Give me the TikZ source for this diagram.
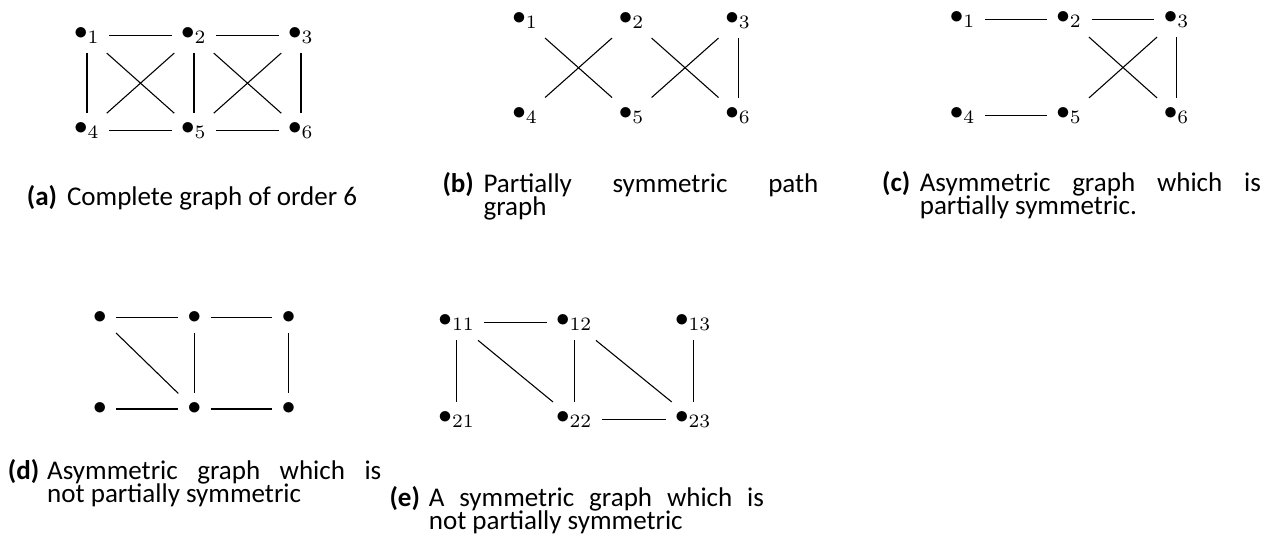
\documentclass[tikz,border=0pt]{standalone}
\usepackage{fontspec}
\newfontfamily\capfont{Carlito}
\begin{document}
\begin{tikzpicture}[x=0.37pt,y=-0.37pt,
  vtx/.style={inner sep=3.33pt},
  edge/.style={draw=black,line width=0.4pt},
  captxt/.style={anchor=base west,inner sep=0pt,font=\capfont\fontsize{10}{8.3}\selectfont},
  caplbl/.style={anchor=base west,inner sep=0pt,font=\capfont\bfseries\fontsize{10}{8.3}\selectfont}]
\useasboundingbox (0,0) rectangle (1264,546);

% ---------- (a) ----------
\begin{scope}[shift={(87,35.5)}]
\node[vtx] (a1) at (0,0) {$\bullet_1$};
\node[vtx] (a2) at (107,0) {$\bullet_2$};
\node[vtx] (a3) at (214,0) {$\bullet_3$};
\node[vtx] (a4) at (0,95.3) {$\bullet_4$};
\node[vtx] (a5) at (107,95.3) {$\bullet_5$};
\node[vtx] (a6) at (214,95.3) {$\bullet_6$};
\end{scope}
\foreach \u/\v in {a1/a2,a2/a3,a4/a5,a5/a6,a1/a4,a2/a5,a3/a6,a1/a5,a2/a4,a2/a6,a3/a5}
  \draw[edge] (\u) -- (\v);
\node[anchor=base,inner sep=0pt,font=\capfont\fontsize{10}{8.3}\selectfont] (capa) at (192,206)
  {\textbf{(a)}\hspace{3.7pt}Complete graph of order 6};

% ---------- (b) ----------
\begin{scope}[shift={(525.3,20.5)}]
\node[vtx] (b1) at (0,0) {$\bullet_1$};
\node[vtx] (b2) at (106.5,0) {$\bullet_2$};
\node[vtx] (b3) at (213,0) {$\bullet_3$};
\node[vtx] (b4) at (0,94.6) {$\bullet_4$};
\node[vtx] (b5) at (106.5,94.6) {$\bullet_5$};
\node[vtx] (b6) at (213,94.6) {$\bullet_6$};
\end{scope}
\foreach \u/\v in {b1/b5,b2/b4,b2/b6,b3/b5,b3/b6}
  \draw[edge] (\u) -- (\v);
\node[caplbl] (lb) at (442,193) {(b)};
\node[captxt] (tb1) at (483,193) {\hbox to 123.9pt{Partially\hfill symmetric\hfill path}};
\node[captxt] (tb2) at (483,216) {graph};

% ---------- (c) ----------
\begin{scope}[shift={(962.7,19.5)}]
\node[vtx] (c1) at (0,0) {$\bullet_1$};
\node[vtx] (c2) at (106.6,0) {$\bullet_2$};
\node[vtx] (c3) at (214,0) {$\bullet_3$};
\node[vtx] (c4) at (0,96) {$\bullet_4$};
\node[vtx] (c5) at (106.6,96) {$\bullet_5$};
\node[vtx] (c6) at (214,96) {$\bullet_6$};
\end{scope}
\foreach \u/\v in {c1/c2,c2/c3,c2/c6,c3/c5,c3/c6,c4/c5}
  \draw[edge] (\u) -- (\v);
\node[caplbl] (lc) at (881.7,192) {(c)};
\node[captxt] (tc1) at (919.3,192) {\hbox to 126.2pt{Asymmetric\hfill graph\hfill which\hfill is}};
\node[captxt] (tc2) at (919.3,215) {partially symmetric.};

% ---------- (d) ----------
\begin{scope}[shift={(100,317.4)}]
\node[vtx] (d1) at (0,0) {$\bullet$};
\node[vtx] (d2) at (94.3,0) {$\bullet$};
\node[vtx] (d3) at (188.7,0) {$\bullet$};
\node[vtx] (d4) at (0,91.6) {$\bullet$};
\node[vtx] (d5) at (94.3,91.6) {$\bullet$};
\node[vtx] (d6) at (188.7,91.6) {$\bullet$};
\end{scope}
\foreach \u/\v in {d1/d2,d2/d3,d1/d5,d2/d5,d3/d6,d4/d5,d5/d6}
  \draw[edge] (\u) -- (\v);
\node[caplbl] (ld) at (7.3,480) {(d)};
\node[captxt] (td1) at (46.7,480) {\hbox to 123.6pt{Asymmetric\hfill graph\hfill which\hfill is}};
\node[captxt] (td2) at (46.7,503) {not partially symmetric};

% ---------- (e) ----------
\begin{scope}[shift={(456.7,322.8)}]
\node[vtx] (e11) at (0,0) {$\bullet_{11}$};
\node[vtx] (e12) at (117.6,0) {$\bullet_{12}$};
\node[vtx] (e13) at (236.6,0) {$\bullet_{13}$};
\node[vtx] (e21) at (0,96.7) {$\bullet_{21}$};
\node[vtx] (e22) at (117.6,96.7) {$\bullet_{22}$};
\node[vtx] (e23) at (236.6,96.7) {$\bullet_{23}$};
\end{scope}
\foreach \u/\v in {e11/e12,e11/e21,e11/e22,e12/e22,e12/e23,e13/e23,e22/e23}
  \draw[edge] (\u) -- (\v);
\node[caplbl] (le) at (389,506.7) {(e)};
\node[captxt] (te1) at (428.3,506.7) {\hbox to 124pt{A\hfill symmetric\hfill graph\hfill which\hfill is}};
\node[captxt] (te2) at (428.3,529.7) {not partially symmetric};
\end{tikzpicture}
\end{document}
